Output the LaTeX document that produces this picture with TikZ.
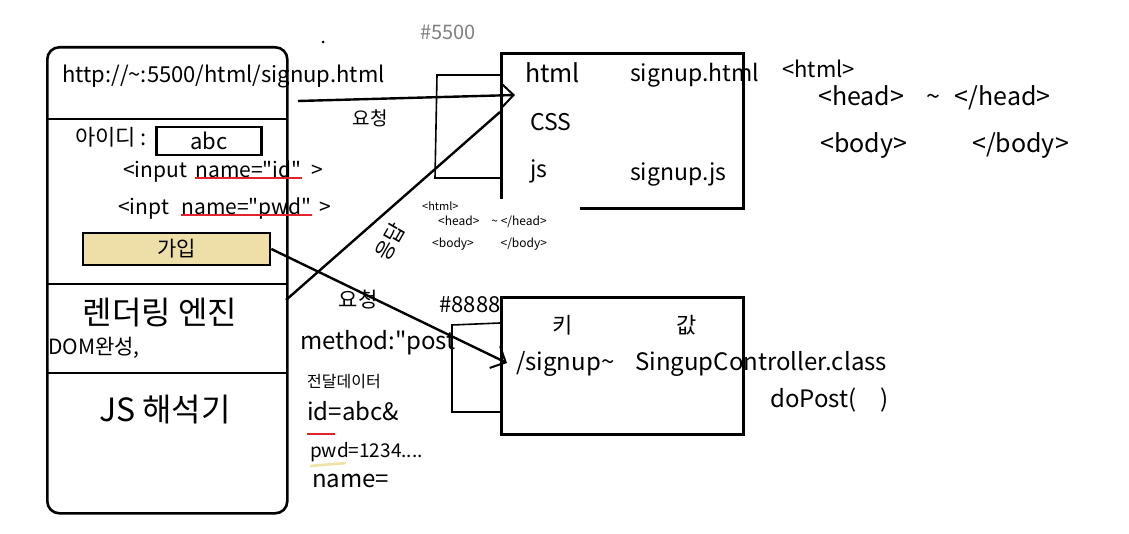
\documentclass[tikz,border=0pt]{standalone}
\usepackage{fontspec}
\setmainfont{Noto Sans CJK KR}[Ligatures=TeXOff]
\usetikzlibrary{positioning,arrows.meta}
\newcommand\hw[1]{\fontsize{#1}{#1}\selectfont}
\newcommand\dq{\char34\relax}
\definecolor{btnfill}{HTML}{EEDFA8}
\definecolor{redmark}{HTML}{E3232B}
\definecolor{yelmark}{HTML}{EFE2A6}

\begin{document}
\begin{tikzpicture}[x=1pt,y=-1pt]
\tikzstyle{frame}=[line width=2.6pt]
\tikzstyle{wire}=[line width=2.4pt]
\tikzstyle{loopline}=[line width=1.6pt]
\tikzstyle{txt}=[inner sep=0pt,anchor=west,text height=0.75em,text depth=0.2em]
\tikzstyle{barb}=[-{Straight Barb[length=12pt,width=24pt,line width=2pt]}]

\useasboundingbox (0,0) rectangle (1129,534);

% Browser
\node[frame,draw,rounded corners=12pt,minimum width=240pt,minimum height=466pt,anchor=north west,inner sep=0pt] (browser) at (46,46) {};
\draw[frame] (46,119) -- (286,119);
\draw[frame] (46,284) -- (286,284);
\draw[frame] (46,373) -- (286,373);
\node[txt,font=\hw{22}] (url) at (62,80) {http://\textasciitilde:5500/html/signup.html};
\node[txt,font=\hw{22}] (idLabel) at (75,143) {아이디 :};
\node[frame,draw,minimum width=105pt,minimum height=28pt,inner sep=0pt,font=\hw{22}] (idBox) at (209,141) {abc};
\node[txt,font=\hw{21}] (inId) at (123,175) {<input};
\node[txt,font=\hw{21},right=8pt of inId] (nmId) {name=\dq id\dq};
\node[txt,font=\hw{21},right=10pt of nmId] (gtId) {>};
\node[txt,font=\hw{21}] (inPw) at (118,212) {<inpt};
\node[txt,font=\hw{21},right=12pt of inPw] (nmPw) {name=\dq pwd\dq};
\node[txt,font=\hw{21},right=8pt of nmPw] (gtPw) {>};
\draw[redmark,line width=2.2pt] ([yshift=2pt]nmId.south west) -- ([yshift=2pt]nmId.south east);
\draw[redmark,line width=2.2pt] ([yshift=2pt]nmPw.south west) -- ([yshift=2pt]nmPw.south east);
\node[frame,draw,fill=btnfill,minimum width=187pt,minimum height=32pt,inner sep=0pt,font=\hw{21}] (join) at (176.5,249) {가입};
\node[font=\hw{32},inner sep=0pt] (engine) at (160,313) {렌더링 엔진};
\node[txt,font=\hw{21}] (dom) at (48,352) {DOM완성,};
\node[font=\hw{32},inner sep=0pt] (jsRun) at (165,410) {JS 해석기};

% Web server 5500
\node[gray,font=\hw{20},inner sep=0pt] (port5500) at (448,32) {\#5500};
\fill (323,42) circle (1.5pt);
\node[frame,draw,minimum width=242pt,minimum height=155pt,anchor=north west,inner sep=0pt] (web) at (500,52) {};
\node[txt,font=\hw{25}] (html) at (525,80) {html};
\node[txt,font=\hw{23}] (css) at (530,128) {CSS};
\node[txt,font=\hw{23}] (js) at (530,175) {js};
\node[txt,font=\hw{23}] (signupHtml) at (630,79) {signup.html};
\node[txt,font=\hw{23}] (signupJs) at (630,178) {signup.js};
\node[txt,font=\hw{22}] (htmlTag) at (782,75) {<html>};
\node[txt,font=\hw{25}] (headOpen) at (818,103) {<head>};
\node[txt,font=\hw{25},right=22pt of headOpen] (headTilde) {\textasciitilde};
\node[txt,font=\hw{25},right=14pt of headTilde] (headClose) {</head>};
\node[txt,font=\hw{25}] (bodyOpen) at (820,150) {<body>};
\node[txt,font=\hw{25}] (bodyClose) at (972,150) {</body>};

% small response text
\fill[white] (410,199) rectangle (580,260);
\node[txt,font=\hw{11}] (smHtml) at (422,208) {<html>};
\node[txt,font=\hw{12}] (smHead) at (438,223) {<head>\quad\textasciitilde\ </head>};
\node[txt,font=\hw{12}] (smBody) at (432,245) {<body>\qquad\ </body>};

% request / response
\coordinate (reqOut) at (298,101);
\coordinate (htmlIn) at (515,95);
\draw[wire,barb] (reqOut) -- (htmlIn);
\node[font=\hw{19},inner sep=0pt] (reqTop) at (370,118) {요청};
\coordinate (resOut) at (286,300);
\coordinate (resIn) at (500,112);
\draw[wire] (resOut) -- (resIn);
\node[font=\hw{21},inner sep=0pt,rotate=60] (resLabel) at (390,242) {응답};
\coordinate (loopTa) at (500,75);
\coordinate (loopTb) at (437,75);
\coordinate (loopTc) at (435,178);
\coordinate (loopTd) at (500,178);
\draw[loopline] (loopTa) -- (loopTb) -- (loopTc) -- (loopTd);

% WAS 8888
\node[font=\hw{22},inner sep=0pt] (port8888) at (470,305) {\#8888};
\node[frame,draw,minimum width=242pt,minimum height=137pt,anchor=north west,inner sep=0pt] (was) at (500,296) {};
\node[font=\hw{22},inner sep=0pt] (keyCol) at (563,325) {키};
\node[font=\hw{22},inner sep=0pt] (valCol) at (687,325) {값};
\node[txt,font=\hw{24}] (path) at (516,368) {/signup\textasciitilde};
\node[txt,font=\hw{24}] (ctrl) at (635,368) {SingupController.class};
\node[txt,font=\hw{24}] (doPost) at (770,405) {doPost(\quad )};
\coordinate (signupIn) at (507,363);
\draw[wire,barb] (join.east) -- (signupIn);
\coordinate (loopBa) at (500,323);
\coordinate (loopBb) at (452,325);
\coordinate (loopBc) at (452,412);
\coordinate (loopBd) at (500,412);
\draw[loopline] (loopBa) -- (loopBb) -- (loopBc) -- (loopBd);

% request data
\node[font=\hw{21},inner sep=0pt] (reqBottom) at (358,300) {요청};
\node[txt,font=\hw{24}] (method) at (300,347) {method:\dq post};
\node[txt,font=\hw{16}] (payload) at (307,385) {전달데이터};
\node[txt,font=\hw{24}] (idVal) at (307,418) {id=abc\&};
\node[txt,font=\hw{19}] (pwdVal) at (310,455) {pwd=1234....};
\node[txt,font=\hw{24}] (nameVal) at (312,485) {name=};
\coordinate (idUa) at (307,434);
\coordinate (idUb) at (335,434);
\draw[redmark,line width=2.2pt] (idUa) -- (idUb);
\coordinate (pwUa) at (310,466);
\coordinate (pwUb) at (346,463);
\draw[yelmark,line width=2.6pt] (pwUa) -- (pwUb);

\end{tikzpicture}
\end{document}
